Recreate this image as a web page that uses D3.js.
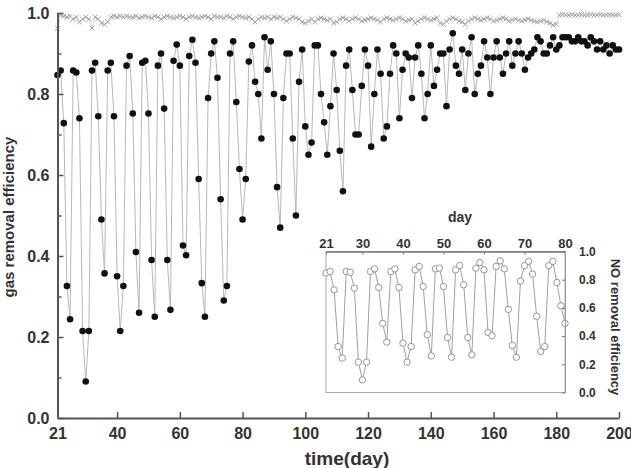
<!DOCTYPE html>
<html>
<head>
<meta charset="utf-8">
<script src="https://cdn.jsdelivr.net/npm/d3@7"></script>
<style>
  body { margin: 0; background: #fff; }
  svg text { font-family: Arial, "Liberation Sans", sans-serif; font-weight: bold; }
</style>
</head>
<body>
<div id="chart"></div>
<script>
// NO removal efficiency, one value per day, day 21..80 (inset, and first part of main series)
var noEfficiency = [
  .847,.858,.728,.326,.244,.858,.853,.74,.215,.09,
  .215,.858,.877,.745,.49,.357,.858,.877,.745,.35,
  .215,.326,.87,.894,.752,.41,.26,.877,.882,.752,
  .39,.25,.87,.90,.764,.39,.267,.882,.922,.87,
  .426,.402,.894,.934,.877,.59,.333,.25,.79,.90,
  .93,.84,.54,.29,.326,.90,.93,.78,.615,.49
];
// gas removal efficiency after day 80, day 81..200
var gasLate = [
  .59,.88,.92,.83,.80,.69,.94,.86,.93,.80,
  .57,.47,.79,.90,.90,.69,.50,.83,.91,.72,
  .65,.68,.92,.92,.80,.73,.65,.77,.90,.81,
  .66,.56,.87,.91,.81,.70,.70,.82,.91,.87,
  .67,.80,.91,.85,.69,.72,.85,.92,.90,.74,
  .86,.90,.89,.79,.89,.92,.85,.74,.80,.92,
  .82,.86,.90,.90,.77,.91,.95,.87,.85,.91,
  .81,.90,.94,.80,.85,.87,.93,.89,.80,.89,
  .93,.89,.85,.90,.93,.87,.90,.93,.90,.86,
  .89,.90,.91,.94,.93,.90,.90,.92,.94,.91,
  .92,.94,.94,.94,.93,.93,.94,.93,.93,.92,
  .94,.93,.91,.93,.91,.92,.90,.92,.91,.91
];
// upper (cross) series, day 21..200
var crossValues = [
  .962,.995,.992,.99,.992,.985,.99,.978,.985,.99,.985,.963,.99,.985,.975,.972,.978,.99,.992,.99,
  .992,.99,.992,.99,.99,.992,.988,.99,.992,.99,.988,.992,.99,.985,.99,.992,.99,.988,.99,.992,
  .99,.985,.99,.992,.99,.988,.99,.992,.99,.985,.992,.99,.99,.988,.992,.99,.985,.99,.992,.99,
  .988,.99,.985,.978,.985,.99,.988,.99,.985,.99,.988,.99,.985,.98,.985,.99,.988,.985,.978,.975,
  .98,.985,.978,.985,.988,.985,.982,.985,.975,.978,.985,.988,.985,.98,.985,.988,.985,.98,.983,.985,
  .988,.985,.983,.978,.985,.988,.985,.982,.985,.988,.985,.98,.983,.985,.975,.98,.985,.988,.985,.982,
  .985,.988,.975,.972,.98,.985,.988,.985,.98,.978,.972,.98,.985,.988,.985,.982,.985,.988,.985,.98,
  .982,.985,.988,.985,.98,.983,.985,.982,.98,.983,.985,.982,.98,.978,.98,.982,.978,.975,.97,.972,
  .995,.996,.995,.995,.996,.995,.995,.996,.995,.995,.996,.995,.995,.996,.995,.995,.996,.995,.995,.996
];
var firstDay = 21;
var mainXTicks = [21, 40, 60, 80, 100, 120, 140, 160, 180, 200];
var mainYTicks = [0, 0.2, 0.4, 0.6, 0.8, 1.0];
var mainYMinor = [0.1, 0.3, 0.5, 0.7, 0.9];
var insetXTicks = [21, 30, 40, 50, 60, 70, 80];
var insetYTicks = [0, 0.2, 0.4, 0.6, 0.8, 1.0];

function Chart(canvas, screen_width, screen_height){
  var _self = this;
  _self.width = screen_width;
  _self.height = screen_height;

  _self.gas = noEfficiency.concat(gasLate).map(function(v, i){ return {day: firstDay + i, value: v}; });
  _self.cross = crossValues.map(function(v, i){ return {day: firstDay + i, value: v}; });
  _self.no = noEfficiency.map(function(v, i){ return {day: firstDay + i, value: v}; });

  _self.svg = d3.select(canvas)
    .append("svg")
      .attr("width", screen_width)
      .attr("height", screen_height);

  _self.svg.append("rect")
      .attr("width", screen_width)
      .attr("height", screen_height)
      .style("fill", "white");

  _self.drawMain();
  _self.drawInset();
}

Chart.prototype.drawMain = function(){
  var _self = this;
  var x = d3.scaleLinear().domain([21, 200]).range([57.5, 619]);
  var y = d3.scaleLinear().domain([0, 1]).range([418, 13]);
  _self.x = x; _self.y = y;

  var g = _self.svg.append("g").attr("class", "main");

  var line = d3.line().x(d => x(d.day)).y(d => y(d.value));

  // cross series near 1.0
  g.append("path")
      .datum(_self.cross)
      .attr("d", line)
      .style("fill", "none")
      .style("stroke", "#cfcfcf")
      .style("stroke-width", 0.8);

  g.selectAll("path.cross")
      .data(_self.cross).enter()
    .append("path")
      .attr("class", "cross")
      .attr("d", d3.symbol().type(d3.symbolTimes).size(18))
      .attr("transform", d => "translate(" + x(d.day) + "," + y(d.value) + ")")
      .style("fill", "none")
      .style("stroke", "#9a9a9a")
      .style("stroke-width", 0.9);

  // gas removal efficiency
  g.append("path")
      .datum(_self.gas)
      .attr("d", line)
      .style("fill", "none")
      .style("stroke", "#b8b8b8")
      .style("stroke-width", 1);

  g.selectAll("circle.dot")
      .data(_self.gas).enter()
    .append("circle")
      .attr("class", "dot")
      .attr("r", 3.3)
      .attr("cx", d => x(d.day))
      .attr("cy", d => y(d.value))
      .style("fill", "#111");

  // axes
  var xAxis = g.append("g")
      .attr("transform", "translate(0,418)")
      .call(d3.axisBottom(x).tickValues(mainXTicks).tickSizeInner(-6).tickSizeOuter(0).tickPadding(10).tickFormat(d3.format("d")));

  var yMinor = g.append("g")
      .attr("transform", "translate(57.5,0)")
      .call(d3.axisLeft(y).tickValues(mainYMinor).tickSizeInner(-4).tickSizeOuter(0).tickFormat(""));

  var yAxis = g.append("g")
      .attr("transform", "translate(57.5,0)")
      .call(d3.axisLeft(y).tickValues(mainYTicks).tickSizeInner(-6).tickSizeOuter(0).tickPadding(8).tickFormat(d3.format(".1f")));

  [xAxis, yAxis, yMinor].forEach(function(a){
    a.select(".domain").style("stroke", "#555").style("stroke-width", 2);
    a.selectAll("line").style("stroke", "#555").style("stroke-width", 1.5);
    a.selectAll("text").style("font-size", "16px").style("fill", "#333");
  });

  g.append("text")
      .attr("x", 347)
      .attr("y", 465)
      .style("text-anchor", "middle")
      .style("font-size", "19px")
      .style("fill", "#333")
      .text("time(day)");

  g.append("text")
      .attr("transform", "translate(14,217) rotate(-90)")
      .style("text-anchor", "middle")
      .style("font-size", "15px")
      .style("fill", "#333")
      .text("gas removal efficiency");
};

Chart.prototype.drawInset = function(){
  var _self = this;
  var left = 326, right = 565, top = 251.5, bottom = 392.5;
  var x = d3.scaleLinear().domain([21, 80]).range([left, right]);
  var y = d3.scaleLinear().domain([0, 1]).range([bottom, top]);

  var g = _self.svg.append("g").attr("class", "inset");

  g.append("rect")
      .attr("x", left)
      .attr("y", top)
      .attr("width", right - left)
      .attr("height", bottom - top)
      .style("fill", "white")
      .style("stroke", "#aaa")
      .style("stroke-width", 1);

  var line = d3.line().x(d => x(d.day)).y(d => y(d.value));

  g.append("path")
      .datum(_self.no)
      .attr("d", line)
      .style("fill", "none")
      .style("stroke", "#a0a0a0")
      .style("stroke-width", 1);

  g.selectAll("circle.open")
      .data(_self.no).enter()
    .append("circle")
      .attr("class", "open")
      .attr("r", 3.2)
      .attr("cx", d => x(d.day))
      .attr("cy", d => y(d.value))
      .style("fill", "white")
      .style("stroke", "#8a8a8a")
      .style("stroke-width", 0.9);

  var xAxis = g.append("g")
      .attr("transform", "translate(0," + top + ")")
      .call(d3.axisTop(x).tickValues(insetXTicks).tickSizeInner(-3).tickSizeOuter(0).tickPadding(4));

  var yAxis = g.append("g")
      .attr("transform", "translate(" + right + ",0)")
      .call(d3.axisRight(y).tickValues(insetYTicks).tickSizeInner(-3).tickSizeOuter(0).tickPadding(14).tickFormat(d3.format(".1f")));

  xAxis.select(".domain").style("stroke", "#777").style("stroke-width", 1.5);
  yAxis.select(".domain").style("stroke", "#999").style("stroke-width", 1);
  [xAxis, yAxis].forEach(function(a){
    a.selectAll("line").style("stroke", "#777");
    a.selectAll("text").style("fill", "#333");
  });
  xAxis.selectAll("text").style("font-size", "13px");
  yAxis.selectAll("text").style("font-size", "12px");

  g.append("text")
      .attr("x", 460)
      .attr("y", 222)
      .style("text-anchor", "middle")
      .style("font-size", "14px")
      .style("fill", "#333")
      .text("day");

  g.append("text")
      .attr("transform", "translate(611,327) rotate(90)")
      .style("text-anchor", "middle")
      .style("font-size", "13px")
      .style("fill", "#333")
      .text("NO removal efficiency");
};

var chart = new Chart("#chart", 631, 468);
</script>
</body>
</html>
